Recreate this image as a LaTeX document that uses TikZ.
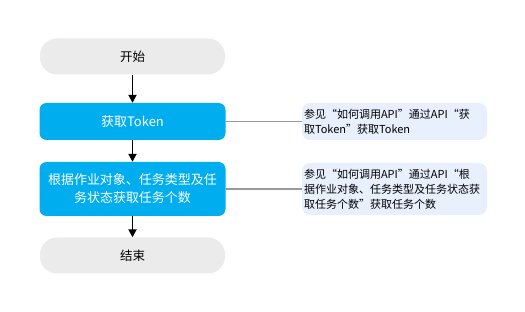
\documentclass[tikz,border=0pt]{standalone}
\usepackage{fontspec}
\setmainfont{Noto Sans CJK SC}
\usetikzlibrary{arrows.meta}
\definecolor{flowblue}{HTML}{00AEEF}
\definecolor{termgray}{HTML}{EBEBEB}
\definecolor{notefill}{HTML}{E8EFFD}
\definecolor{linkgray}{HTML}{999999}
\tikzset{
  term/.style={draw=none, fill=termgray, rounded corners=17pt, minimum width=185pt, minimum height=36pt, font=\fontsize{12.5}{15}\selectfont, text=black},
  proc/.style={draw=none, fill=flowblue, rounded corners=7pt, minimum width=186pt, text=white, align=center, font=\fontsize{13}{18}\selectfont},
  note/.style={draw=none, fill=notefill, rounded corners=8pt, minimum width=185pt, text width=181pt, align=left, inner sep=2pt, font=\fontsize{11}{15}\selectfont, text=black},
  flow/.style={-{Triangle[length=8pt,width=8pt]}, line width=1.8pt, black},
  link/.style={line width=1.8pt, linkgray}
}
\begin{document}
\begin{tikzpicture}[x=1pt,y=-1pt]
\useasboundingbox (0,0) rectangle (525,312);
\node[term] (start) at (132.5,56.5) {开始};
\node[proc, minimum height=37pt] (token) at (132.5,121.5) {获取Token};
\node[proc, minimum height=54pt] (count) at (132.5,189) {根据作业对象、任务类型及任\\务状态获取任务个数};
\node[term] (end) at (132.5,255.5) {结束};
\node[note, minimum height=37pt] (n1) at (394.5,121.5) {参见“如何调用API”通过API“获\\取Token”获取Token};
\node[note, minimum height=52pt] (n2) at (394.5,189) {参见“如何调用API”通过API“根\\据作业对象、任务类型及任务状态获\\取任务个数”获取任务个数};
\draw[flow] (start) -- (token);
\draw[flow] (token) -- (count);
\draw[flow] (count) -- (end);
\draw[link] (token.east) -- (n1.west);
\draw[link] (count.east) -- (n2.west);
\end{tikzpicture}
\end{document}
